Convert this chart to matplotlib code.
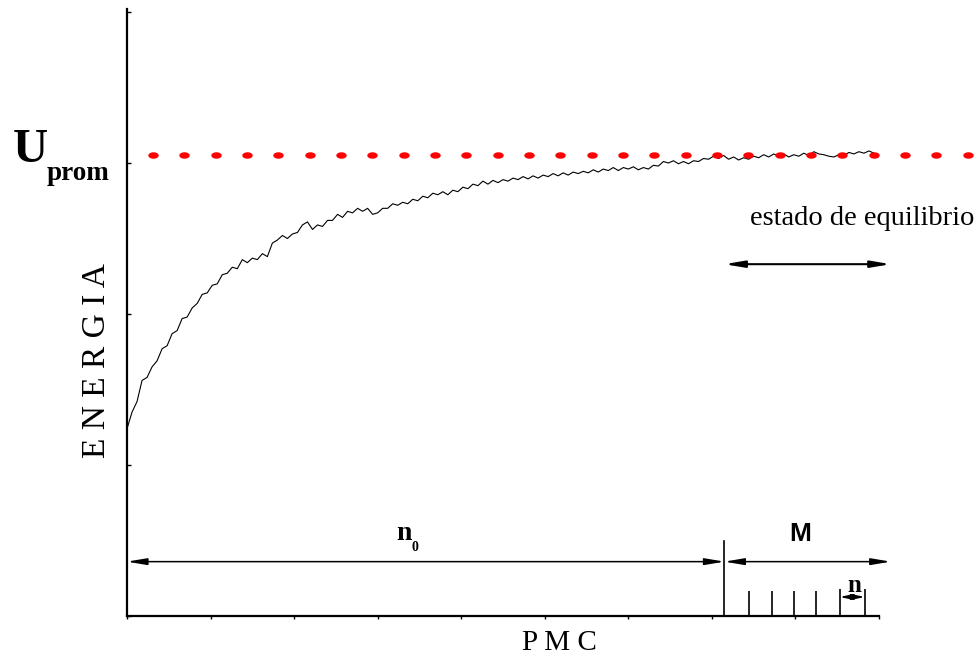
import numpy as np
import matplotlib
matplotlib.use("Agg")
import matplotlib.pyplot as plt
from matplotlib.path import Path

# Datos (PMC en x, energia en y)
pasos = np.arange(0, 900, 6)
energia = [
    124, 135, 142, 156, 158, 165, 169, 177, 179, 187,
    189, 197, 198, 204, 207, 213, 214, 219, 220, 226,
    227, 231, 230, 236, 234, 237, 236, 240, 238, 247,
    249, 252, 250, 253, 254, 259, 261, 256, 259, 258,
    262, 262, 266, 264, 268, 267, 270, 268, 270, 266,
    267, 270, 270, 273, 272, 274, 273, 276, 275, 278,
    277, 280, 279, 281, 279, 282, 281, 284, 283, 286,
    285, 288, 286, 288.5, 287, 289, 288, 290, 289, 291,
    289.5, 291.5, 290, 292, 291, 293, 291.5, 293.5, 292, 294,
    293, 294.5, 293.5, 295.5, 294, 296, 295, 297, 295, 297,
    296, 297.5, 295.5, 297, 296, 298.5, 298, 301, 300, 301.5,
    299.5, 301, 299.5, 301.5, 301, 303, 302.5, 304.5, 303, 305,
    302.5, 304, 302, 303.5, 302.5, 304.5, 303.5, 305.5, 304, 306,
    304.5, 306, 304, 305.5, 304.5, 306.5, 305, 307.5, 306, 305.5,
    304.5, 304, 305.5, 305, 307, 306, 307.5, 306.5, 308, 306.5,
]
u_prom = 305
n0_fin = 715
m_fin = 914
marcas_n = [744, 772, 798, 825, 853, 883]

fig = plt.figure(figsize=(9.79, 6.56), dpi=100)
ax = fig.add_axes([127 / 979, 40 / 656, 752 / 979, 607 / 656])
ax.set_xlim(0, 900)
ax.set_ylim(0, 402)

for lado in ["top", "right"]:
    ax.spines[lado].set_visible(False)
for lado in ["left", "bottom"]:
    ax.spines[lado].set_linewidth(1.6)

ax.set_xticks(np.arange(0, 901, 100))
ax.set_yticks(np.arange(0, 401, 100))
ax.tick_params(axis="x", direction="out", length=2, width=1, labelbottom=False)
ax.tick_params(axis="y", direction="in", length=3, width=1, labelleft=False)

# curva de energia
ax.plot(pasos, energia, color="black", lw=0.8)

# linea punteada de U_prom (puntos elipticos)
t = np.linspace(0, 2 * np.pi, 40)
elipse = Path(np.column_stack([np.cos(t), 0.62 * np.sin(t)]))
puntos_x = np.arange(31, 1010, 37.5)
ax.plot(puntos_x, np.full(len(puntos_x), u_prom), ls="none", marker=elipse,
        ms=7.5, color="#ff0000", mec="none", clip_on=False, zorder=3)

flecha = dict(arrowstyle="<|-|>,head_length=0.65,head_width=0.11",
              color="black", lw=1.1, shrinkA=0, shrinkB=0, mutation_scale=18)

# estado de equilibrio
ax.annotate("", xy=(m_fin, 233), xytext=(n0_fin, 233),
            arrowprops=dict(flecha, lw=1.5), annotation_clip=False)

# n0 y M
ax.annotate("", xy=(n0_fin, 36), xytext=(0, 36), arrowprops=flecha, annotation_clip=False)
ax.annotate("", xy=(m_fin, 36), xytext=(n0_fin, 36), arrowprops=flecha, annotation_clip=False)
ax.plot([n0_fin, n0_fin], [0, 50], color="black", lw=1.2, clip_on=False)

# marcas de n
alturas = [16.8, 16.8, 16.8, 16.8, 17.7, 17.7]
ax.vlines(marcas_n, 0, alturas, color="black", lw=1.2, clip_on=False)
ax.annotate("", xy=(marcas_n[-1], 12.6), xytext=(marcas_n[-2], 12.6),
            arrowprops=dict(arrowstyle="<|-|>,head_length=0.55,head_width=0.12",
                            color="black", lw=1.1, shrinkA=0, shrinkB=0,
                            mutation_scale=14), annotation_clip=False)

serif = "Liberation Serif"
fig.text(13 / 979, 1 - 162 / 656, "U", family=serif, weight="bold", fontsize=35,
         ha="left", va="baseline")
fig.text(47 / 979, 1 - 180 / 656, "prom", family=serif, weight="bold", fontsize=19.5,
         ha="left", va="baseline")
fig.text(97 / 979, 1 - 361 / 656, "E N E R G I A", family=serif, fontsize=24,
         rotation=90, ha="center", va="center")
fig.text(559 / 979, 1 - 643 / 656, "P M C", family=serif, fontsize=21,
         ha="center", va="center")
fig.text(750 / 979, 1 - 225 / 656, "estado de equilibrio", family=serif, fontsize=20.5,
         ha="left", va="baseline")
fig.text(800 / 979, 1 - 534 / 656, "M", family="Liberation Sans", weight="bold",
         fontsize=19, ha="center", va="center")
fig.text(396 / 979, 1 - 540 / 656, "n", family=serif, weight="bold", fontsize=20,
         ha="left", va="baseline")
fig.text(412 / 979, 1 - 551 / 656, "0", family=serif, weight="bold", fontsize=10,
         ha="left", va="baseline")
fig.text(847 / 979, 1 - 592 / 656, "n", family=serif, weight="bold", fontsize=18,
         ha="left", va="baseline")

fig.savefig("out.png", dpi=100)
